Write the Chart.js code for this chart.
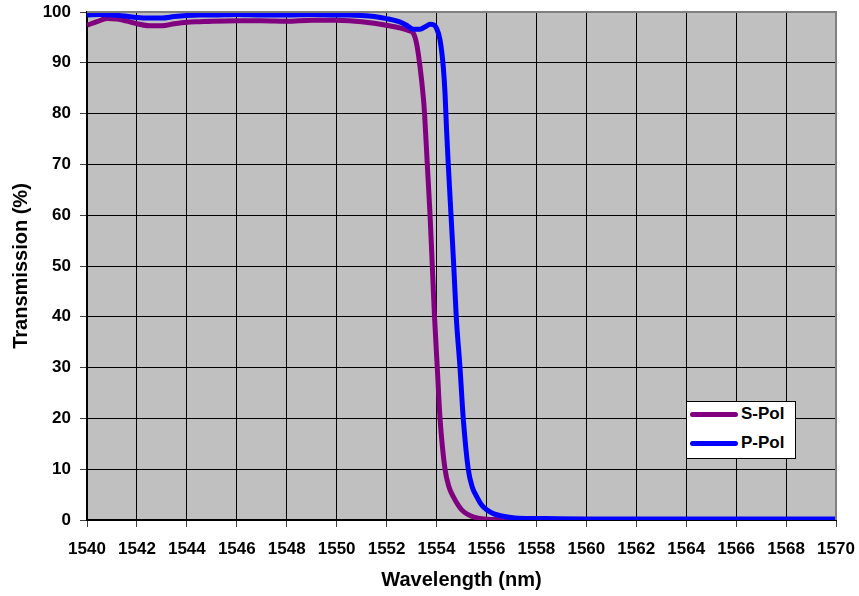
<!DOCTYPE html>
<html>
<head>
<meta charset="utf-8">
<script src="https://cdn.jsdelivr.net/npm/chart.js@4.4.1/dist/chart.umd.min.js"></script>
<style>
    body { margin: 0; background: #fff; }
    .wrap { position: relative; width: 859px; height: 596px; }
    #legendBox {
        position: absolute; left: 686px; top: 401px; width: 108px; height: 56px;
        background: #fff; border: 1px solid #000;
        font-family: Arial, "Liberation Sans", sans-serif; font-weight: bold; font-size: 17px; color: #000;
    }
    .legend-row { position: absolute; left: 3px; height: 20px; display: flex; align-items: center; }
    .legend-line { width: 48px; height: 5px; border-radius: 3px; margin-right: 3px; }
</style>
</head>
<body>
<div class="wrap">
    <canvas id="filterChart" width="859" height="596"></canvas>
    <div id="legendBox"></div>
</div>
<script>
// S-Pol measured curve (nm, %)
const sPolWavelength = [1540.0, 1540.4, 1540.8, 1541.2, 1541.6, 1542.0, 1542.5, 1543.0, 1543.5, 1544.0, 1544.5, 1545.0, 1546.0, 1547.0, 1548.0, 1549.0, 1550.0, 1550.5, 1551.0, 1551.5, 1552.0, 1552.5, 1552.9, 1553.07, 1553.2, 1553.34, 1553.48, 1553.52, 1553.63, 1553.74, 1553.83, 1553.92, 1554.03, 1554.14, 1554.34, 1554.5, 1554.67, 1555.01, 1555.54, 1556.2, 1558, 1570];
const sPolTransmission = [97.4, 98.1, 98.7, 98.6, 98.2, 97.7, 97.3, 97.3, 97.7, 98.0, 98.1, 98.2, 98.3, 98.3, 98.2, 98.4, 98.4, 98.3, 98.1, 97.8, 97.4, 96.9, 96.3, 95.8, 93.8, 89.2, 82.7, 80, 70, 60, 50, 40, 30, 20, 10, 6.5, 4.6, 2.0, 0.5, 0.1, 0.05, 0.05];

// P-Pol measured curve (nm, %)
const pPolWavelength = [1540.0, 1540.5, 1541.0, 1541.5, 1542.0, 1542.5, 1543.0, 1543.5, 1544.0, 1544.5, 1545.0, 1546.0, 1547.0, 1548.0, 1549.0, 1550.0, 1550.5, 1551.0, 1551.5, 1552.0, 1552.5, 1552.8, 1553.07, 1553.34, 1553.55, 1553.74, 1553.88, 1554.0, 1554.14, 1554.27, 1554.34, 1554.4, 1554.47, 1554.58, 1554.69, 1554.79, 1554.94, 1555.07, 1555.27, 1555.43, 1555.61, 1555.8, 1556.01, 1556.3, 1556.61, 1557.14, 1558, 1560, 1565, 1570];
const pPolTransmission = [99.4, 99.5, 99.4, 99.2, 98.9, 98.8, 98.8, 99.1, 99.3, 99.4, 99.4, 99.5, 99.4, 99.4, 99.5, 99.4, 99.4, 99.3, 99.1, 98.7, 98.1, 97.4, 96.6, 96.6, 97.1, 97.6, 97.5, 96.8, 94.5, 89.2, 84.0, 77.0, 70, 60, 50, 40, 30, 20, 10, 6.5, 4.6, 3.0, 2.0, 1.2, 0.8, 0.4, 0.3, 0.2, 0.2, 0.2];

const seriesNames = ['S-Pol', 'P-Pol'];
const seriesColors = ['#800080', '#0000FF'];

const xMin = 1540, xMax = 1570, xStep = 2;
const yMin = 0, yMax = 100, yStep = 10;

const FONT = 'Arial, "Liberation Sans", sans-serif';

function toPoints(xs, ys) {
    return xs.map((x, i) => ({ x: x, y: ys[i] }));
}

const plotBackground = {
    id: 'plotBackground',
    beforeDraw(chart) {
        const { ctx, chartArea: a } = chart;
        ctx.save();
        ctx.fillStyle = '#C0C0C0';
        ctx.fillRect(a.left, a.top, a.right - a.left, a.bottom - a.top);
        ctx.restore();
    },
    afterDraw(chart) {
        const { ctx, chartArea: a } = chart;
        ctx.save();
        ctx.strokeStyle = '#808080';
        ctx.lineWidth = 2;
        ctx.beginPath();
        ctx.moveTo(a.left, a.top);
        ctx.lineTo(a.right, a.top);
        ctx.lineTo(a.right, a.bottom);
        ctx.stroke();
        ctx.restore();
    }
};

function buildLegend() {
    const box = document.getElementById('legendBox');
    const rows = [12, 41];
    box.innerHTML = seriesNames.map((name, i) => `
        <div class="legend-row" style="top: ${rows[i] - 10}px">
            <div class="legend-line" style="background: ${seriesColors[i]}"></div>
            <span>${name}</span>
        </div>
    `).join('');
}

const ctx = document.getElementById('filterChart').getContext('2d');

new Chart(ctx, {
    type: 'line',
    data: {
        datasets: [
            {
                label: seriesNames[0],
                data: toPoints(sPolWavelength, sPolTransmission),
                borderColor: seriesColors[0],
                borderWidth: 5,
                pointRadius: 0,
                cubicInterpolationMode: 'monotone',
                order: 2
            },
            {
                label: seriesNames[1],
                data: toPoints(pPolWavelength, pPolTransmission),
                borderColor: seriesColors[1],
                borderWidth: 5,
                pointRadius: 0,
                cubicInterpolationMode: 'monotone',
                order: 1
            }
        ]
    },
    options: {
        responsive: false,
        animation: false,
        layout: { padding: { top: 12, right: 23, left: 0, bottom: 0 } },
        plugins: {
            legend: { display: false },
            tooltip: { enabled: false }
        },
        scales: {
            x: {
                type: 'linear',
                min: xMin,
                max: xMax,
                afterFit: s => {
                    s.height = 76;
                    s.paddingLeft = 0;
                    s.paddingRight = 0;
                },
                ticks: {
                    stepSize: xStep,
                    color: '#000',
                    padding: 12,
                    maxRotation: 0,
                    callback: v => String(v),
                    font: { family: FONT, size: 17, weight: 'bold' }
                },
                grid: { color: '#000', lineWidth: 1, tickLength: 7, tickColor: '#404040' },
                border: { color: '#000', width: 2 },
                title: {
                    display: true,
                    text: 'Wavelength (nm)',
                    color: '#000',
                    padding: { top: 0, bottom: 4 },
                    font: { family: FONT, size: 20, weight: 'bold' }
                }
            },
            y: {
                min: yMin,
                max: yMax,
                afterFit: s => {
                    s.width = 87;
                    s.paddingTop = 0;
                    s.paddingBottom = 0;
                },
                ticks: {
                    stepSize: yStep,
                    color: '#000',
                    padding: 9,
                    callback: v => String(v),
                    font: { family: FONT, size: 17, weight: 'bold' }
                },
                grid: { color: '#000', lineWidth: 1, tickLength: 7, tickColor: '#404040' },
                border: { color: '#000', width: 2 },
                title: {
                    display: true,
                    text: 'Transmission (%)',
                    color: '#000',
                    padding: { top: 9, bottom: 0 },
                    font: { family: FONT, size: 20, weight: 'bold' }
                }
            }
        }
    },
    plugins: [plotBackground]
});

buildLegend();
</script>
</body>
</html>
